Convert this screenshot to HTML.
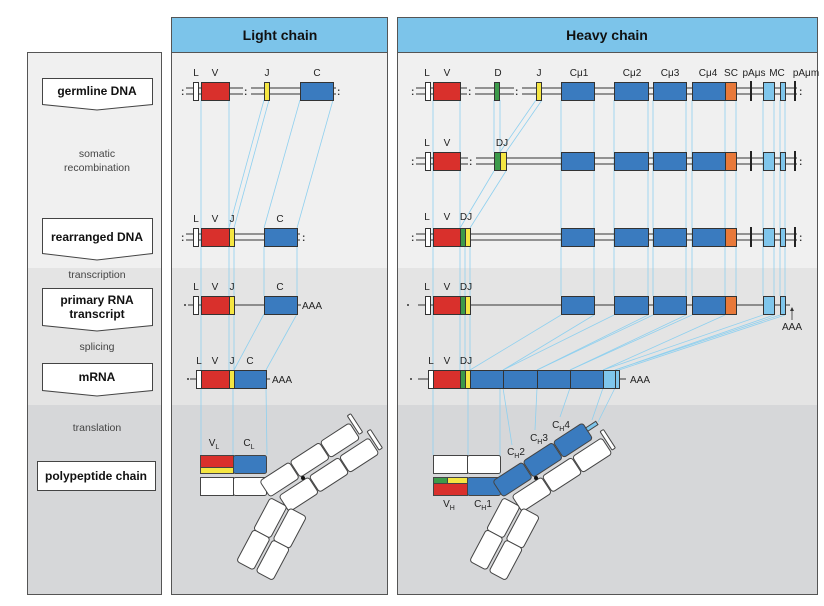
<!DOCTYPE html>
<html><head><meta charset="utf-8"><style>
html,body{margin:0;padding:0;background:#fff;}
svg{display:block;font-family:"Liberation Sans",sans-serif;}
</style></head><body>
<svg width="824" height="606" viewBox="0 0 824 606" xmlns="http://www.w3.org/2000/svg">
<defs>
<clipPath id="cl"><rect x="27" y="52" width="791" height="543"/></clipPath>
</defs>
<!-- backgrounds -->
<g>
<rect x="27" y="52" width="135" height="216" fill="#f0f0f0"/>
<rect x="27" y="268" width="135" height="137" fill="#e4e4e4"/>
<rect x="27" y="405" width="135" height="190" fill="#d6d7d9"/>
<rect x="171" y="52" width="217" height="216" fill="#f0f0f0"/>
<rect x="171" y="268" width="217" height="137" fill="#e4e4e4"/>
<rect x="171" y="405" width="217" height="190" fill="#d6d7d9"/>
<rect x="397" y="52" width="421" height="216" fill="#f0f0f0"/>
<rect x="397" y="268" width="421" height="137" fill="#e4e4e4"/>
<rect x="397" y="405" width="421" height="190" fill="#d6d7d9"/>
<rect x="171" y="17" width="217" height="35" fill="#7cc4ea"/>
<rect x="397" y="17" width="421" height="35" fill="#7cc4ea"/>
<rect x="27.5" y="52.5" width="134" height="542" fill="none" stroke="#555"/>
<rect x="171.5" y="17.5" width="216" height="577" fill="none" stroke="#555"/>
<rect x="397.5" y="17.5" width="420" height="577" fill="none" stroke="#555"/>
<line x1="171" y1="52.5" x2="388" y2="52.5" stroke="#555"/>
<line x1="397" y1="52.5" x2="818" y2="52.5" stroke="#555"/>
</g>
<text x="280" y="40" text-anchor="middle" font-size="14" font-weight="bold" fill="#111">Light chain</text>
<text x="607" y="40" text-anchor="middle" font-size="14" font-weight="bold" fill="#111">Heavy chain</text>

<!-- left boxes -->
<g fill="#fff" stroke="#444" stroke-width="1">
<path d="M42.5 78.5H152.5V104.5L97 110L42.5 104.5Z"/>
<path d="M42.5 218.5H152.5V253.5L97 260L42.5 253.5Z"/>
<path d="M42.5 288.5H152.5V325.5L97 331L42.5 325.5Z"/>
<path d="M42.5 363.5H152.5V390.5L97 396L42.5 390.5Z"/>
<rect x="37.5" y="461.5" width="118" height="29"/>
</g>
<g font-size="12" font-weight="bold" text-anchor="middle" fill="#111">
<text x="97" y="95">germline DNA</text>
<text x="97" y="241">rearranged DNA</text>
<text x="97" y="304">primary RNA</text>
<text x="97" y="318">transcript</text>
<text x="97" y="381">mRNA</text>
<text x="96" y="480">polypeptide chain</text>
</g>
<g font-size="10.5" text-anchor="middle" fill="#444">
<text x="97" y="157">somatic</text>
<text x="97" y="171">recombination</text>
<text x="97" y="278">transcription</text>
<text x="97" y="350">splicing</text>
<text x="97" y="431">translation</text>
</g>

<!-- connector lines -->
<g stroke="#8fd0ef" stroke-width="0.8" fill="none">
<!-- light -->
<line x1="201" y1="100" x2="201" y2="455"/>
<line x1="229" y1="100" x2="229" y2="370"/>
<line x1="234" y1="246" x2="234" y2="370"/>
<line x1="264" y1="100" x2="229" y2="228"/>
<line x1="269" y1="100" x2="234" y2="228"/>
<line x1="300" y1="100" x2="264" y2="228"/>
<line x1="333" y1="100" x2="297" y2="228"/>
<line x1="264" y1="246" x2="264" y2="296"/>
<line x1="297" y1="246" x2="297" y2="296"/>
<line x1="264" y1="314" x2="234" y2="370"/>
<line x1="297" y1="314" x2="266" y2="370"/>
<line x1="233" y1="388" x2="233" y2="455"/>
<line x1="266" y1="388" x2="267" y2="455"/>
<!-- heavy -->
<line x1="433" y1="100" x2="433" y2="455"/>
<line x1="460" y1="100" x2="460" y2="370"/>
<line x1="494" y1="100" x2="494" y2="152"/>
<line x1="500" y1="100" x2="500" y2="152"/>
<line x1="536" y1="100" x2="500" y2="152"/>
<line x1="542" y1="100" x2="506" y2="152"/>
<line x1="494" y1="171" x2="460" y2="228"/>
<line x1="506" y1="171" x2="470" y2="228"/>
<line x1="465" y1="247" x2="465" y2="370"/>
<line x1="470" y1="247" x2="470" y2="370"/>
<line x1="561" y1="100" x2="561" y2="296"/><line x1="594" y1="100" x2="594" y2="296"/>
<line x1="614" y1="100" x2="614" y2="296"/><line x1="648" y1="100" x2="648" y2="296"/>
<line x1="653" y1="100" x2="653" y2="296"/><line x1="686" y1="100" x2="686" y2="296"/>
<line x1="692" y1="100" x2="692" y2="296"/><line x1="725" y1="100" x2="725" y2="296"/>
<line x1="736" y1="100" x2="736" y2="296"/>
<line x1="763" y1="100" x2="763" y2="296"/><line x1="774" y1="100" x2="774" y2="296"/>
<line x1="780" y1="100" x2="780" y2="296"/><line x1="785" y1="100" x2="785" y2="296"/>
<line x1="561" y1="315" x2="470" y2="370"/><line x1="594" y1="315" x2="503" y2="370"/>
<line x1="614" y1="315" x2="503" y2="370"/><line x1="648" y1="315" x2="537" y2="370"/>
<line x1="653" y1="315" x2="537" y2="370"/><line x1="686" y1="315" x2="570" y2="370"/>
<line x1="692" y1="315" x2="570" y2="370"/><line x1="725" y1="315" x2="603" y2="370"/>
<line x1="763" y1="315" x2="603" y2="370"/><line x1="774" y1="315" x2="615" y2="370"/>
<line x1="780" y1="315" x2="615" y2="370"/><line x1="785" y1="315" x2="619" y2="370"/>
<line x1="468" y1="388" x2="468" y2="455"/>
<line x1="500" y1="388" x2="500" y2="477"/>
<line x1="503" y1="388" x2="512" y2="445"/>
<line x1="537" y1="388" x2="535" y2="430"/>
<line x1="570" y1="388" x2="560" y2="417"/>
<line x1="603" y1="388" x2="592" y2="420"/>
<line x1="615" y1="388" x2="598" y2="422"/>
</g>

<!-- DNA rows: double lines -->
<g stroke="#333" stroke-width="1">
<!-- light germline -->
<line x1="186" y1="88" x2="336" y2="88"/><line x1="186" y1="94" x2="336" y2="94"/>
<!-- light rearranged -->
<line x1="186" y1="234" x2="300" y2="234"/><line x1="186" y1="240" x2="300" y2="240"/>
<!-- light primary -->
<line x1="188" y1="305" x2="301" y2="305"/>
<line x1="190" y1="379" x2="270" y2="379"/>
<!-- heavy rows -->
<line x1="416" y1="88" x2="797" y2="88"/><line x1="416" y1="94" x2="797" y2="94"/>
<line x1="416" y1="158" x2="797" y2="158"/><line x1="416" y1="164" x2="797" y2="164"/>
<line x1="416" y1="234" x2="797" y2="234"/><line x1="416" y1="240" x2="797" y2="240"/>
<line x1="418" y1="305" x2="790" y2="305"/>
<line x1="418" y1="379" x2="626" y2="379"/>
</g>
<!-- break marks -->
<g fill="#f0f0f0">
<rect x="243" y="86" width="8" height="10"/>
<rect x="467" y="86" width="8" height="10"/>
<rect x="514" y="86" width="8" height="10"/>
<rect x="468" y="156" width="8" height="10"/>
</g>
<g font-size="10" fill="#333" font-weight="bold">
<text x="181" y="95">:</text><text x="244" y="95">:</text><text x="337" y="95">:</text>
<text x="181" y="241">:</text><text x="302" y="241">:</text>
<text x="411" y="95">:</text><text x="468" y="95">:</text><text x="515" y="95">:</text><text x="799" y="95">:</text>
<text x="411" y="165">:</text><text x="469" y="165">:</text><text x="799" y="165">:</text>
<text x="411" y="241">:</text><text x="799" y="241">:</text>
</g>
<g fill="#333"><circle cx="185" cy="305" r="1"/><circle cx="188" cy="379" r="1"/><circle cx="408" cy="305" r="1"/><circle cx="411" cy="379" r="1"/></g>

<!-- segments -->
<g stroke="#333" stroke-width="1">
<!-- light germline -->
<rect x="193.5" y="82.5" width="5" height="18" fill="#fff"/>
<rect x="201.5" y="82.5" width="28" height="18" fill="#d9302c"/>
<rect x="264.5" y="82.5" width="5" height="18" fill="#f5e642"/>
<rect x="300.5" y="82.5" width="33" height="18" fill="#3a7bbf"/>
<!-- light rearranged -->
<rect x="193.5" y="228.5" width="5" height="18" fill="#fff"/>
<rect x="201.5" y="228.5" width="28" height="18" fill="#d9302c"/>
<rect x="229.5" y="228.5" width="5" height="18" fill="#f5e642"/>
<rect x="264.5" y="228.5" width="33" height="18" fill="#3a7bbf"/>
<!-- light primary -->
<rect x="193.5" y="296.5" width="5" height="18" fill="#fff"/>
<rect x="201.5" y="296.5" width="28" height="18" fill="#d9302c"/>
<rect x="229.5" y="296.5" width="5" height="18" fill="#f5e642"/>
<rect x="264.5" y="296.5" width="33" height="18" fill="#3a7bbf"/>
<!-- light mRNA -->
<rect x="196.5" y="370.5" width="5" height="18" fill="#fff"/>
<rect x="201.5" y="370.5" width="28" height="18" fill="#d9302c"/>
<rect x="229.5" y="370.5" width="5" height="18" fill="#f5e642"/>
<rect x="234.5" y="370.5" width="32" height="18" fill="#3a7bbf"/>

<!-- heavy germline -->
<rect x="425.5" y="82.5" width="5" height="18" fill="#fff"/>
<rect x="433.5" y="82.5" width="27" height="18" fill="#d9302c"/>
<rect x="494.5" y="82.5" width="5" height="18" fill="#3c9a4a"/>
<rect x="536.5" y="82.5" width="5" height="18" fill="#f5e642"/>
<rect x="561.5" y="82.5" width="33" height="18" fill="#3a7bbf"/>
<rect x="614.5" y="82.5" width="34" height="18" fill="#3a7bbf"/>
<rect x="653.5" y="82.5" width="33" height="18" fill="#3a7bbf"/>
<rect x="692.5" y="82.5" width="33" height="18" fill="#3a7bbf"/>
<rect x="725.5" y="82.5" width="11" height="18" fill="#e8793a"/>
<rect x="763.5" y="82.5" width="11" height="18" fill="#7fc6ec"/>
<rect x="780.5" y="82.5" width="5" height="18" fill="#7fc6ec"/>
<!-- heavy row2 -->
<rect x="425.5" y="152.5" width="5" height="18" fill="#fff"/>
<rect x="433.5" y="152.5" width="27" height="18" fill="#d9302c"/>
<rect x="494.5" y="152.5" width="6" height="18" fill="#3c9a4a"/>
<rect x="500.5" y="152.5" width="6" height="18" fill="#f5e642"/>
<rect x="561.5" y="152.5" width="33" height="18" fill="#3a7bbf"/>
<rect x="614.5" y="152.5" width="34" height="18" fill="#3a7bbf"/>
<rect x="653.5" y="152.5" width="33" height="18" fill="#3a7bbf"/>
<rect x="692.5" y="152.5" width="33" height="18" fill="#3a7bbf"/>
<rect x="725.5" y="152.5" width="11" height="18" fill="#e8793a"/>
<rect x="763.5" y="152.5" width="11" height="18" fill="#7fc6ec"/>
<rect x="780.5" y="152.5" width="5" height="18" fill="#7fc6ec"/>
<!-- heavy row3 -->
<rect x="425.5" y="228.5" width="5" height="18" fill="#fff"/>
<rect x="433.5" y="228.5" width="27" height="18" fill="#d9302c"/>
<rect x="460.5" y="228.5" width="5" height="18" fill="#3c9a4a"/>
<rect x="465.5" y="228.5" width="5" height="18" fill="#f5e642"/>
<rect x="561.5" y="228.5" width="33" height="18" fill="#3a7bbf"/>
<rect x="614.5" y="228.5" width="34" height="18" fill="#3a7bbf"/>
<rect x="653.5" y="228.5" width="33" height="18" fill="#3a7bbf"/>
<rect x="692.5" y="228.5" width="33" height="18" fill="#3a7bbf"/>
<rect x="725.5" y="228.5" width="11" height="18" fill="#e8793a"/>
<rect x="763.5" y="228.5" width="11" height="18" fill="#7fc6ec"/>
<rect x="780.5" y="228.5" width="5" height="18" fill="#7fc6ec"/>
<!-- heavy row4 -->
<rect x="425.5" y="296.5" width="5" height="18" fill="#fff"/>
<rect x="433.5" y="296.5" width="27" height="18" fill="#d9302c"/>
<rect x="460.5" y="296.5" width="5" height="18" fill="#3c9a4a"/>
<rect x="465.5" y="296.5" width="5" height="18" fill="#f5e642"/>
<rect x="561.5" y="296.5" width="33" height="18" fill="#3a7bbf"/>
<rect x="614.5" y="296.5" width="34" height="18" fill="#3a7bbf"/>
<rect x="653.5" y="296.5" width="33" height="18" fill="#3a7bbf"/>
<rect x="692.5" y="296.5" width="33" height="18" fill="#3a7bbf"/>
<rect x="725.5" y="296.5" width="11" height="18" fill="#e8793a"/>
<rect x="763.5" y="296.5" width="11" height="18" fill="#7fc6ec"/>
<rect x="780.5" y="296.5" width="5" height="18" fill="#7fc6ec"/>
<!-- heavy mRNA -->
<rect x="428.5" y="370.5" width="5" height="18" fill="#fff"/>
<rect x="433.5" y="370.5" width="27" height="18" fill="#d9302c"/>
<rect x="460.5" y="370.5" width="5" height="18" fill="#3c9a4a"/>
<rect x="465.5" y="370.5" width="5" height="18" fill="#f5e642"/>
<rect x="470.5" y="370.5" width="33" height="18" fill="#3a7bbf"/>
<rect x="503.5" y="370.5" width="34" height="18" fill="#3a7bbf"/>
<rect x="537.5" y="370.5" width="33" height="18" fill="#3a7bbf"/>
<rect x="570.5" y="370.5" width="33" height="18" fill="#3a7bbf"/>
<rect x="603.5" y="370.5" width="12" height="18" fill="#7fc6ec"/>
<rect x="615.5" y="370.5" width="4" height="18" fill="#7fc6ec"/>
</g>
<!-- pA bars -->
<g stroke="#222" stroke-width="2">
<line x1="751" y1="81" x2="751" y2="101"/><line x1="795" y1="81" x2="795" y2="101"/>
<line x1="751" y1="151" x2="751" y2="171"/><line x1="795" y1="151" x2="795" y2="171"/>
<line x1="751" y1="227" x2="751" y2="247"/><line x1="795" y1="227" x2="795" y2="247"/>
</g>
<line x1="792" y1="320" x2="792" y2="309" stroke="#333" stroke-width="0.8"/>
<path d="M790 311L792 307L794 311Z" fill="#333"/>

<!-- labels -->
<g font-size="10" fill="#222" text-anchor="middle">
<text x="196" y="76">L</text><text x="215" y="76">V</text><text x="267" y="76">J</text><text x="317" y="76">C</text>
<text x="196" y="222">L</text><text x="215" y="222">V</text><text x="232" y="222">J</text><text x="280" y="222">C</text>
<text x="196" y="290">L</text><text x="215" y="290">V</text><text x="232" y="290">J</text><text x="280" y="290">C</text>
<text x="199" y="364">L</text><text x="215" y="364">V</text><text x="232" y="364">J</text><text x="250" y="364">C</text>
<text x="427" y="76">L</text><text x="447" y="76">V</text><text x="498" y="76">D</text><text x="539" y="76">J</text>
<text x="579" y="76">Cμ1</text><text x="632" y="76">Cμ2</text><text x="670" y="76">Cμ3</text><text x="708" y="76">Cμ4</text>
<text x="731" y="76">SC</text><text x="754" y="76">pAμs</text><text x="777" y="76">MC</text><text x="806" y="76">pAμm</text>
<text x="427" y="146">L</text><text x="447" y="146">V</text><text x="502" y="146">DJ</text>
<text x="427" y="220">L</text><text x="447" y="220">V</text><text x="466" y="220">DJ</text>
<text x="427" y="290">L</text><text x="447" y="290">V</text><text x="466" y="290">DJ</text>
<text x="431" y="364">L</text><text x="447" y="364">V</text><text x="466" y="364">DJ</text>
</g>
<g font-size="10" fill="#222">
<text x="302" y="309">AAA</text><text x="272" y="383">AAA</text>
<text x="630" y="383">AAA</text><text x="782" y="330">AAA</text>
</g>

<!-- Light antibody -->
<g stroke="#444" stroke-width="1">
<rect x="200.5" y="455.5" width="33" height="13" fill="#d9302c"/>
<rect x="200.5" y="467.5" width="33" height="6" fill="#f5e642"/>
<rect x="233.5" y="455.5" width="33" height="18" rx="2" fill="#3a7bbf"/>
<rect x="200.5" y="477.5" width="33" height="18" fill="#fff"/>
<rect x="233.5" y="477.5" width="33" height="18" rx="2" fill="#fff"/>
<g transform="translate(303,478) rotate(-33)" fill="#fff">
<rect x="-38" y="-21" width="35" height="19" rx="3"/>
<rect x="-2" y="-21" width="35" height="19" rx="3"/>
<rect x="34" y="-21" width="35" height="19" rx="3"/>
<rect x="-30" y="2" width="35" height="19" rx="3"/>
<rect x="6" y="2" width="35" height="19" rx="3"/>
<rect x="42" y="2" width="35" height="19" rx="3"/>
<rect x="71" y="-28" width="4" height="22" rx="1"/>
<rect x="79" y="-4" width="4" height="22" rx="1"/>
</g>
<g transform="translate(288,507) rotate(118)" fill="#fff">
<rect x="0" y="-21" width="36" height="19" rx="3"/>
<rect x="36" y="-21" width="36" height="19" rx="3"/>
<rect x="0" y="1" width="36" height="19" rx="3"/>
<rect x="36" y="1" width="36" height="19" rx="3"/>
</g>
</g>
<circle cx="303" cy="478" r="2" fill="#111"/>
<g font-size="10" fill="#222" text-anchor="middle">
<text x="214" y="446">V<tspan font-size="7" dy="3">L</tspan></text>
<text x="249" y="446">C<tspan font-size="7" dy="3">L</tspan></text>
</g>

<!-- Heavy antibody -->
<g stroke="#444" stroke-width="1">
<rect x="433.5" y="455.5" width="34" height="18" fill="#fff"/>
<rect x="467.5" y="455.5" width="33" height="18" rx="2" fill="#fff"/>
<rect x="433.5" y="477.5" width="34" height="18" fill="#d9302c"/>
<rect x="433.5" y="477.5" width="14" height="6" fill="#3c9a4a"/>
<rect x="447.5" y="477.5" width="20" height="6" fill="#f5e642"/>
<rect x="467.5" y="477.5" width="33" height="18" rx="2" fill="#3a7bbf"/>
<g transform="translate(536,478) rotate(-33)">
<rect x="-38" y="-21" width="35" height="19" rx="3" fill="#3a7bbf"/>
<rect x="-2" y="-21" width="35" height="19" rx="3" fill="#3a7bbf"/>
<rect x="34" y="-21" width="35" height="19" rx="3" fill="#3a7bbf"/>
<rect x="-30" y="2" width="35" height="19" rx="3" fill="#fff"/>
<rect x="6" y="2" width="35" height="19" rx="3" fill="#fff"/>
<rect x="42" y="2" width="35" height="19" rx="3" fill="#fff"/>
<rect x="69" y="-15" width="12" height="4" fill="#7fc6ec"/>
<rect x="79" y="-4" width="4" height="22" rx="1" fill="#fff"/>
</g>
<g transform="translate(521,507) rotate(118)" fill="#fff">
<rect x="0" y="-21" width="36" height="19" rx="3"/>
<rect x="36" y="-21" width="36" height="19" rx="3"/>
<rect x="0" y="1" width="36" height="19" rx="3"/>
<rect x="36" y="1" width="36" height="19" rx="3"/>
</g>
</g>
<circle cx="536" cy="478" r="2" fill="#111"/>
<g font-size="10" fill="#222" text-anchor="middle">
<text x="449" y="507">V<tspan font-size="7" dy="3">H</tspan></text>
<text x="483" y="507">C<tspan font-size="7" dy="3">H</tspan><tspan dy="-3">1</tspan></text>
<text x="516" y="455">C<tspan font-size="7" dy="3">H</tspan><tspan dy="-3">2</tspan></text>
<text x="539" y="441">C<tspan font-size="7" dy="3">H</tspan><tspan dy="-3">3</tspan></text>
<text x="561" y="428">C<tspan font-size="7" dy="3">H</tspan><tspan dy="-3">4</tspan></text>
</g>
</svg>
</body></html>
